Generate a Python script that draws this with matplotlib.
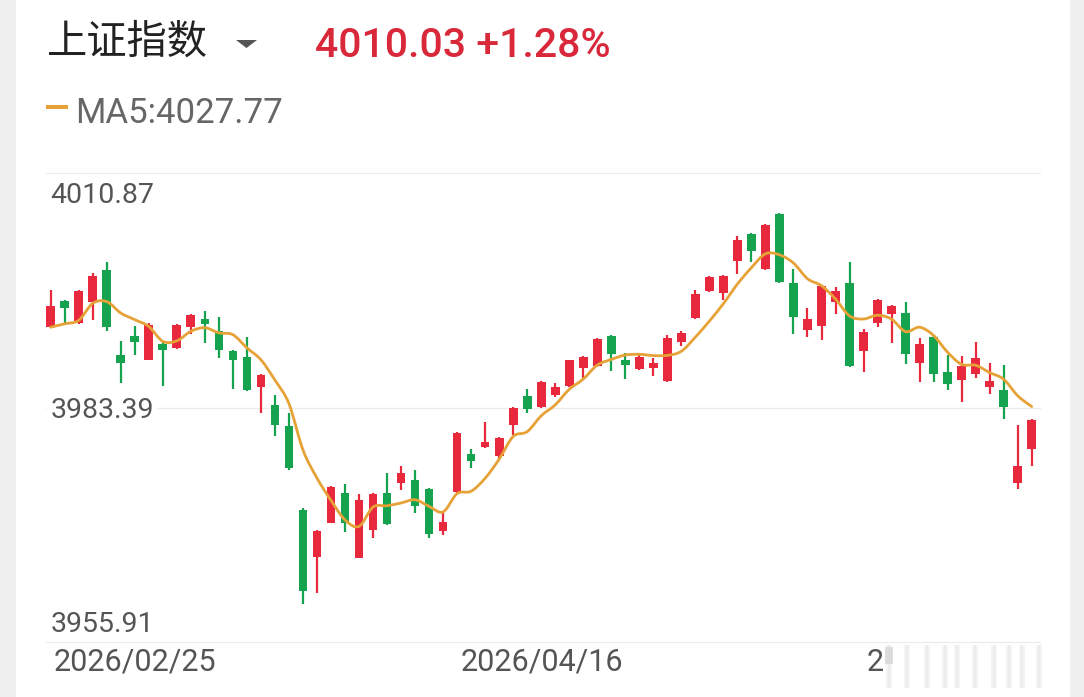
import numpy as np
import matplotlib
matplotlib.use('Agg')
import matplotlib.pyplot as plt
from matplotlib.patches import Rectangle, Polygon, PathPatch
from matplotlib.path import Path
from matplotlib.lines import Line2D

# daily candles (index level)
opens = [3992.8, 3995.9, 3993.3, 3995.8, 3999.5, 3989.6, 3991.8, 3989.0, 3990.8, 3990.4,
         3992.8, 3993.8, 3992.3, 3990.0, 3989.3, 3985.8, 3983.7, 3981.2, 3971.4, 3965.9,
         3969.9, 3973.4, 3965.8, 3969.0, 3973.4, 3974.6, 3974.9, 3973.8, 3968.9, 3973.5,
         3977.9, 3978.8, 3977.7, 3981.3, 3984.7, 3983.4, 3984.8, 3985.9, 3988.0, 3988.2,
         3991.8, 3989.0, 3987.9, 3988.0, 3986.5, 3991.1, 3993.9, 3997.0, 3996.8, 4000.6,
         4003.7, 3999.6, 4006.1, 3998.0, 3992.5, 3992.9, 3995.7, 3998.0, 3990.0, 3993.3,
         3994.3, 3994.5, 3988.6, 3991.7, 3987.5, 3986.6, 3987.3, 3985.8, 3985.4, 3974.6,
         3978.5]
highs = [3997.2, 3996.0, 3997.2, 3999.2, 4000.4, 3991.2, 3992.9, 3993.3, 3991.1, 3993.2,
         3994.3, 3994.7, 3994.0, 3990.1, 3991.6, 3987.3, 3984.9, 3982.7, 3971.6, 3969.0,
         3974.2, 3974.4, 3973.3, 3973.4, 3975.7, 3976.5, 3976.1, 3973.9, 3971.0, 3980.5,
         3978.5, 3981.7, 3979.9, 3983.4, 3985.5, 3986.5, 3986.3, 3989.0, 3989.4, 3991.5,
         3991.9, 3989.8, 3989.7, 3989.2, 3991.9, 3992.3, 3997.2, 3998.8, 3998.9, 4003.5,
         4003.8, 4004.9, 4006.2, 3999.6, 3995.0, 3997.7, 3997.5, 4000.4, 3992.6, 3996.1,
         3995.4, 3995.7, 3991.5, 3991.8, 3989.5, 3989.4, 3991.1, 3988.6, 3988.4, 3981.3,
         3982.0]
lows = [3992.7, 3993.3, 3993.2, 3993.7, 3992.4, 3986.3, 3989.5, 3988.9, 3985.9, 3990.3,
        3992.0, 3990.9, 3989.2, 3985.6, 3985.3, 3982.8, 3980.0, 3976.1, 3960.4, 3961.7,
        3969.8, 3968.8, 3965.7, 3968.1, 3969.6, 3973.7, 3971.0, 3968.1, 3968.4, 3973.4,
        3976.3, 3978.7, 3977.2, 3980.2, 3982.8, 3983.3, 3984.6, 3985.8, 3986.8, 3988.1,
        3987.7, 3986.7, 3987.8, 3987.1, 3986.4, 3990.6, 3993.8, 3996.9, 3996.0, 3999.0,
        4000.4, 3999.5, 3998.0, 3992.0, 3991.7, 3991.3, 3994.4, 3988.1, 3987.5, 3992.8,
        3991.0, 3988.5, 3986.4, 3986.4, 3985.4, 3984.0, 3986.8, 3985.0, 3982.1, 3973.8,
        3976.5]
closes = [3995.3, 3995.0, 3997.1, 3998.8, 3992.8, 3988.6, 3991.1, 3993.1, 3990.1, 3993.1,
          3994.2, 3993.2, 3990.1, 3989.0, 3985.4, 3987.2, 3981.3, 3976.3, 3961.9, 3968.9,
          3974.1, 3969.9, 3972.5, 3973.2, 3969.7, 3975.7, 3971.8, 3968.6, 3970.0, 3980.4,
          3977.1, 3979.4, 3979.8, 3983.3, 3983.2, 3986.4, 3985.8, 3988.9, 3989.3, 3991.4,
          3989.7, 3988.4, 3989.3, 3988.6, 3991.5, 3992.1, 3996.7, 3998.7, 3998.8, 4003.0,
          4001.7, 4004.8, 3998.1, 3994.0, 3993.8, 3997.6, 3997.0, 3988.2, 3992.2, 3996.0,
          3995.3, 3989.7, 3990.8, 3987.3, 3986.2, 3988.2, 3989.2, 3986.5, 3983.4, 3976.5,
          3981.9]
# MA5 at the first four candles needs earlier days
ma5_head = [3992.8, 3993.2, 3993.6, 3995.6]

y_levels = [4010.87, 3983.39, 3955.91]
y_labels = ['4010.87', '3983.39', '3955.91']
date_pos = [0, 29, 58]
date_labels = ['2026/02/25', '2026/04/16', '2']

title = '上证指数'
last_price = '4010.03 +1.28%'
ma5_text = 'MA5:4027.77'

RED = '#e8283c'
GREEN = '#16a34f'
ORANGE = '#e6a236'
GRAY = '#555555'

plt.rcParams['font.family'] = ['Roboto', 'Noto Sans CJK SC', 'DejaVu Sans']

W, H = 1084, 697
def fx(x):
    return x / W
def fy(y):
    return 1 - y / H

def smooth_path(xs, ys):
    # catmull-rom style bezier through the points, like the app's smoothed line
    pts = np.column_stack([xs, ys])
    verts = [pts[0]]
    codes = [Path.MOVETO]
    n = len(pts)
    for i in range(n - 1):
        p0 = pts[max(i - 1, 0)]
        p1 = pts[i]
        p2 = pts[i + 1]
        p3 = pts[min(i + 2, n - 1)]
        verts += [p1 + (p2 - p0) / 6, p2 - (p3 - p1) / 6, p2]
        codes += [Path.CURVE4] * 3
    return Path(verts, codes)

fig = plt.figure(figsize=(W / 100, H / 100), dpi=100)
fig.patch.set_facecolor('white')

# grey phone-frame strips at the sides
fig.add_artist(Rectangle((0, 0), fx(16), 1, transform=fig.transFigure, color='#f0f0f0', lw=0))
fig.add_artist(Rectangle((fx(1070), 0), fx(14), 1, transform=fig.transFigure, color='#f0f0f0', lw=0))

ax = fig.add_axes([fx(46), fy(642), (1040 - 46) / W, (642 - 173) / H])
ax.set_axis_off()

o = np.array(opens)
h = np.array(highs)
l = np.array(lows)
c = np.array(closes)
idx = np.arange(len(o))
cols = np.where(c >= o, RED, GREEN)

for lev in y_levels:
    ax.axhline(lev, color='#ececec', lw=0.9, clip_on=False, zorder=0)

ax.vlines(idx, l, h, colors=cols, linewidth=1.6, zorder=2)
body_low = np.minimum(o, c)
body_h = np.maximum(np.abs(c - o), 0.15)
ax.bar(idx, body_h, bottom=body_low, width=0.62, color=cols, linewidth=0, zorder=2)

ma5 = np.concatenate([ma5_head, np.convolve(c, np.ones(5) / 5, mode='valid')])
ax.add_patch(PathPatch(smooth_path(idx.astype(float), ma5), facecolor='none',
                       edgecolor=ORANGE, lw=2.0, capstyle='round', joinstyle='round', zorder=3))

ax.set_xlim(-0.335, 70.59)
ax.set_ylim(3955.91, 4010.87)

# price labels sitting on the grid lines
offs = [-21.6, -7.8, 7.2]
for lev, lab, dy in zip(y_levels, y_labels, offs):
    kw = {}
    if dy == -7.8:
        kw['bbox'] = dict(facecolor='white', edgecolor='none', pad=2)
    ax.annotate(lab, xy=(0, lev), xycoords=('axes fraction', 'data'),
                xytext=(3.0, dy), textcoords='offset points',
                ha='left', va='baseline', fontsize=20.5, color=GRAY,
                annotation_clip=False, zorder=4, **kw)

for pos, lab in zip(date_pos, date_labels):
    ax.annotate(lab, xy=(pos, 0), xycoords=('data', 'axes fraction'),
                xytext=(2.2, -20.7), textcoords='offset points',
                ha='left', va='baseline', fontsize=22, color=GRAY,
                annotation_clip=False)

# blurred watermark over the last date
for bx in [887, 905, 925, 943, 955, 973, 992, 1007, 1020, 1037]:
    for k, a in enumerate([0.25, 0.45, 0.25]):
        fig.add_artist(Rectangle((fx(bx - 1 + k * 2), fy(688)), 2 / W, 43 / H,
                                 transform=fig.transFigure, color='#d4d4d4', alpha=a, lw=0))
fig.add_artist(Rectangle((fx(885), fy(664)), 8 / W, 17 / H, transform=fig.transFigure,
                         color='#d6d6d6', alpha=0.8, lw=0))

# header
fig.text(fx(47), fy(54), title, family=['Noto Sans CJK SC'], fontsize=29, color='#222222',
         va='baseline', ha='left')
fig.add_artist(Polygon([(fx(236), fy(40)), (fx(257), fy(40)), (fx(246.5), fy(48))],
                       closed=True, transform=fig.transFigure, color=GRAY, lw=0))
fig.text(fx(315), fy(57), last_price, fontsize=29.5, color='#d8283a', weight='medium',
         va='baseline', ha='left')
fig.add_artist(Line2D([fx(46), fx(68)], [fy(107), fy(107)], transform=fig.transFigure,
                      color=ORANGE, lw=2.9, solid_capstyle='butt'))
fig.text(fx(75), fy(123), ma5_text, fontsize=25, color='#666666', va='baseline', ha='left')

fig.savefig('out.png', dpi=100)
